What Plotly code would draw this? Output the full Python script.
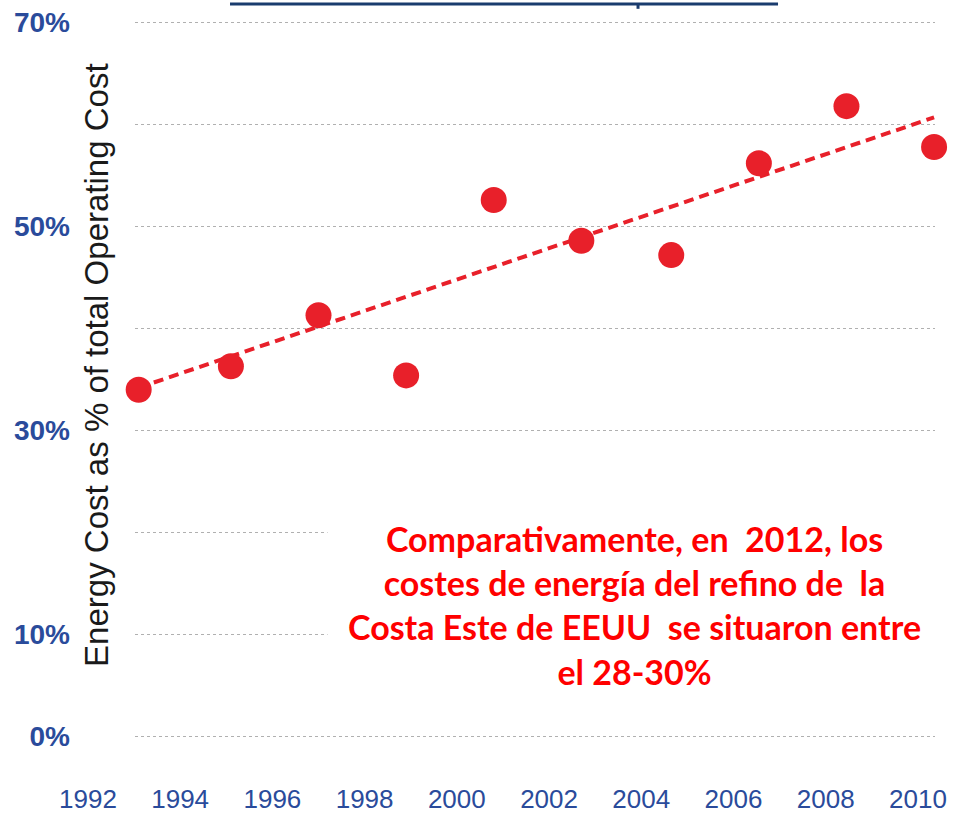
import plotly.graph_objects as go

# energy cost share of total operating cost
years = [1993.1, 1995.1, 1997.0, 1998.9, 2000.8, 2002.7, 2004.65, 2006.55, 2008.45, 2010.35]
energy_pct = [34.0, 36.3, 41.3, 35.4, 52.6, 48.6, 47.2, 56.2, 61.8, 57.8]

# dashed trend line end values
trend_years = [1993.1, 2010.35]
trend_pct = [34.2, 60.7]

y_ticks = [0, 10, 20, 30, 40, 50, 60, 70]
y_tick_text = ["0%", "10%", "", "30%", "", "50%", "", "70%"]
x_tick_years = [1992, 1994, 1996, 1998, 2000, 2002, 2004, 2006, 2008, 2010]

RED = "#e8202a"
BLUE = "#2a4b9b"

note = ("Comparativamente, en\u00a0 2012, los<br>"
        "costes de energía del refino de\u00a0 la<br>"
        "Costa Este de EEUU\u00a0 se situaron entre<br>"
        "el 28-30%")

fig = go.Figure()

# invisible trace so the label-only axis x2 gets drawn (added first, sits underneath)
fig.add_trace(go.Scatter(x=[x_tick_years[0]], y=[None], xaxis="x2", yaxis="y2",
                         mode="markers", showlegend=False, hoverinfo="skip"))
fig.add_trace(go.Scatter(x=trend_years, y=trend_pct, mode="lines",
                         line=dict(color=RED, width=4, dash="10px,6px"),
                         hoverinfo="skip", showlegend=False))
fig.add_trace(go.Scatter(x=years, y=energy_pct, mode="markers",
                         marker=dict(color=RED, size=26, line=dict(width=0)),
                         cliponaxis=False, showlegend=False))

fig.add_annotation(x=0.0423, y=0.519, xref="paper", yref="paper",
                   text="Energy Cost as % of total Operating Cost", textangle=-90,
                   showarrow=False, xanchor="center", yanchor="middle",
                   font=dict(family="Liberation Sans, Arial", size=33, color="#1a1a1a"))

fig.add_annotation(x=0.6566, y=0.186, xref="paper", yref="paper", text=note,
                   showarrow=False, xanchor="center", yanchor="middle", align="center",
                   bgcolor="white", borderpad=20,
                   font=dict(family="Lato, Open Sans, sans-serif", size=34,
                             color="#ff0000", weight="bold"))

# underline of the cut-off heading
fig.add_shape(type="line", xref="paper", yref="paper", x0=0.1943, x1=0.8206,
              y0=1.0238, y1=1.0238, line=dict(color="#1a3c6e", width=3))
fig.add_shape(type="line", xref="paper", yref="paper", x0=0.6606, x1=0.6606,
              y0=1.0238, y1=1.017, line=dict(color="#1a3c6e", width=3))

fig.update_layout(
    width=953, height=816,
    margin=dict(l=60, r=18, t=21, b=78, autoexpand=False),
    plot_bgcolor="rgba(0,0,0,0)", paper_bgcolor="white",
    xaxis=dict(range=[1993.02, 2010.37], domain=[0.0857, 1], anchor="y",
               automargin=False, showgrid=False, zeroline=False, showline=False,
               showticklabels=False, ticks=""),
    # wider label-only axis so the 1992 label can sit left of the grid
    xaxis2=dict(range=[1991.394, 2010.37], domain=[0, 1], anchor="y2",
                automargin=False, tickvals=x_tick_years, showgrid=False,
                zeroline=False, showline=False, ticks="", ticklabelstandoff=43,
                tickfont=dict(family="Liberation Sans, Arial", size=26, color=BLUE)),
    yaxis2=dict(range=[0, 1], domain=[0, 1], anchor="x2", visible=False,
                automargin=False, showgrid=False, zeroline=False),
    yaxis=dict(range=[-0.15, 70.15], anchor="x", automargin=False,
               tickvals=y_ticks, ticktext=y_tick_text, showgrid=True,
               gridcolor="#b0b0b0", gridwidth=1, griddash="dot", zeroline=False,
               showline=False, ticks="", ticklabelstandoff=64,
               tickfont=dict(family="Liberation Sans, Arial", size=28, color=BLUE,
                             weight="bold")),
)

fig.write_html("out.html", config={"displayModeBar": False},
               post_script="document.body.style.margin='0';")
